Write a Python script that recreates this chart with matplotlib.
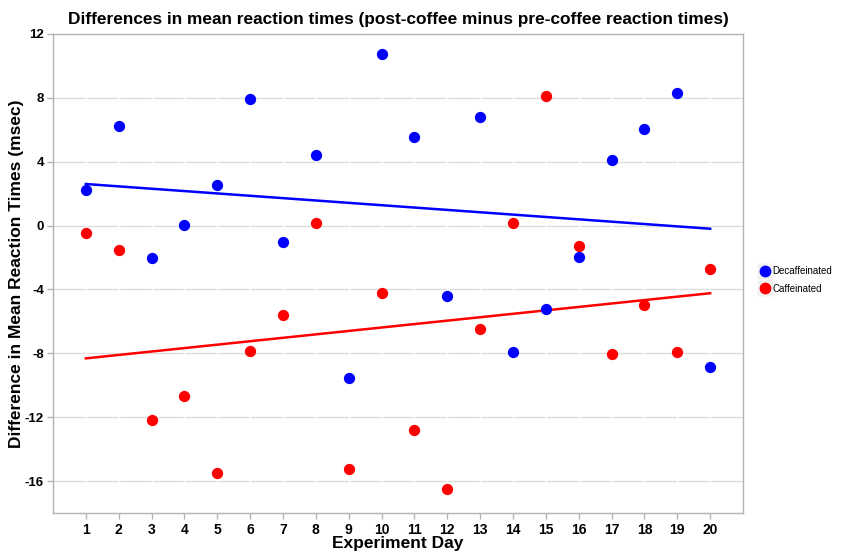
import numpy as np
import matplotlib
matplotlib.use('Agg')
import matplotlib.pyplot as plt
from matplotlib.lines import Line2D

plt.rcParams['font.family'] = ['Liberation Sans', 'DejaVu Sans']

BLUE = '#0000ff'
RED = '#ff0000'
GRID = '#dcdcdc'
SPINE = '#b3b3b3'
KEYBG = '#f2f2f2'

days = list(range(1, 21))
decaf = [2.2, 6.25, -2.0, 0.06, 2.56, 7.94, -1.0, 4.4, -9.56, 10.75,
         5.56, -4.38, 6.81, -7.94, -5.25, -1.94, 4.13, 6.06, 8.31, -8.88]
caf = [-0.44, -1.5, -12.19, -10.69, -15.5, -7.88, -5.63, 0.19, -15.25, -4.19,
       -12.81, -16.5, -6.5, 0.19, 8.13, -1.25, -8.06, -5.0, -7.94, -2.69]
yticks = [-16, -12, -8, -4, 0, 4, 8, 12]

fig = plt.figure(figsize=(8.65, 5.57), dpi=100)
ax = fig.add_axes([53 / 865, 1 - 513 / 557, 690 / 865, 479 / 557])

x = np.array(days)
for vals, c in [(decaf, BLUE), (caf, RED)]:
    k, b = np.polyfit(x, vals, 1)
    ax.plot([1, 20], [k * 1 + b, k * 20 + b], color=c, lw=1.8, zorder=3)

ax.scatter(days, decaf, s=66, color=BLUE, zorder=4, linewidths=0)
ax.scatter(days, caf, s=66, color=RED, zorder=4, linewidths=0)

ax.set_xlim(0, 21)
ax.set_ylim(-18, 12)
ax.set_xticks(days)
ax.set_yticks(yticks)
ax.set_yticklabels([str(v) for v in yticks])

for v in yticks:
    ax.axhline(v, color=GRID, lw=1.0, zorder=0.5)
for d in days:
    ax.axvline(d, color='white', lw=1.0, zorder=0.6)

for s in ax.spines.values():
    s.set_color(SPINE)
    s.set_linewidth(1.0)
ax.tick_params(axis='both', colors=SPINE, length=4, width=1.0, direction='out',
               labelcolor='black', labelsize=10)
ax.tick_params(axis='y', labelsize=9.5, pad=2.5)
for lab in ax.get_xticklabels() + ax.get_yticklabels():
    lab.set_fontweight('bold')

ax.set_title('Differences in mean reaction times (post-coffee minus pre-coffee reaction times)',
             fontsize=12.4, fontweight='bold', pad=7)
ax.set_xlabel('Experiment Day', fontsize=12.5, fontweight='bold', labelpad=-1)
ax.set_ylabel('Difference in Mean Reaction Times (msec)', fontsize=12.5,
              fontweight='bold')
ax.yaxis.set_label_coords(-29 / 690, 0.5)

def key(c, name):
    bg = Line2D([0], [0], marker='s', color='none', markerfacecolor=KEYBG,
                markeredgecolor='none', markersize=12)
    dot = Line2D([0], [0], marker='o', color='none', markerfacecolor=c,
                 markeredgecolor='none', markersize=8.5)
    return (bg, dot), name

k1, l1 = key(BLUE, 'Decaffeinated')
k2, l2 = key(RED, 'Caffeinated')
fig.legend([k1, k2], [l1, l2], loc='center left',
           bbox_to_anchor=(753 / 865, 1 - 280 / 557),
           frameon=False, fontsize=7, handlelength=1.0, handletextpad=0.3,
           labelspacing=0.75, borderpad=0.2)

fig.savefig('out.png', dpi=100)
